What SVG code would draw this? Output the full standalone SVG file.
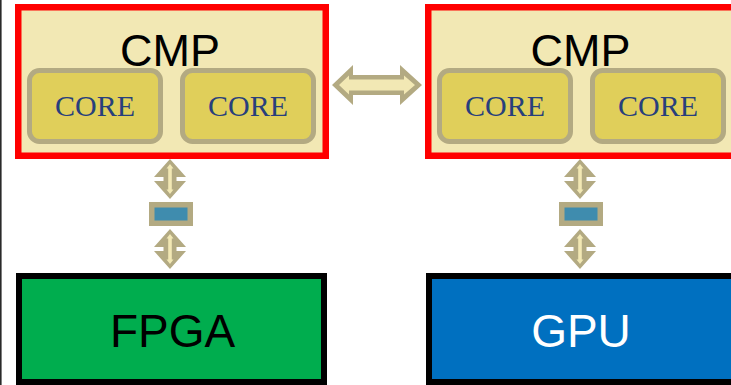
<svg xmlns="http://www.w3.org/2000/svg" width="731" height="385" viewBox="0 0 731 385">
  <style>
    .cmp { fill: #F2E8B4; stroke: #FF0000; stroke-width: 6.5; }
    .core { fill: #E0CF5A; stroke: #B3AA82; stroke-width: 5; }
    .cmp-label { font-family: "Liberation Sans", Arial, sans-serif; font-size: 45px; fill: #000; text-anchor: middle; }
    .core-label { font-family: "Liberation Serif", "Times New Roman", serif; font-size: 30px; fill: #283F7C; text-anchor: middle; }
    .dev { stroke: #000; stroke-width: 6; }
    .dev-label { font-family: "Liberation Sans", Arial, sans-serif; font-size: 46px; text-anchor: middle; }
    .arrow-out { fill: #B3AA82; }
    .arrow-in { fill: #F2E8B4; }
    .bridge { fill: #3F8CAE; stroke: #B3AA82; stroke-width: 5.5; }
  </style>
  <defs>
    <!-- vertical double-headed link arrow, centred on x=0, spanning y 0..40 -->
    <g id="vlink">
      <polygon class="arrow-out" points="0,0 16,18 6.5,18 6.5,22 16,22 0,40 -16,22 -6.5,22 -6.5,18 -16,18"/>
      <polygon class="arrow-in" points="0,5 3.5,9.5 1.8,9.5 1.8,30.5 3.5,30.5 0,35 -3.5,30.5 -1.8,30.5 -1.8,9.5 -3.5,9.5"/>
    </g>
  </defs>

  <rect width="731" height="385" fill="#FFFFFF"/>
  <rect x="0" y="0" width="1.6" height="385" fill="#2A2A2A"/>

  <!-- left multicore chip -->
  <g id="cmp-left">
    <rect class="cmp" x="18.25" y="7.25" width="307.5" height="148.5"/>
    <text class="cmp-label" x="170" y="65.5">CMP</text>
    <g id="cmp-left-core1">
      <rect class="core" x="29.5" y="70.5" width="131" height="71" rx="10"/>
      <text class="core-label" x="95" y="115.5">CORE</text>
    </g>
    <g id="cmp-left-core2">
      <rect class="core" x="182.5" y="70.5" width="131" height="71" rx="10"/>
      <text class="core-label" x="248" y="115.5">CORE</text>
    </g>
  </g>

  <!-- right multicore chip -->
  <g id="cmp-right">
    <rect class="cmp" x="428.25" y="7.25" width="320" height="148.5"/>
    <text class="cmp-label" x="580.5" y="65.5">CMP</text>
    <g id="cmp-right-core1">
      <rect class="core" x="439.5" y="70.5" width="131" height="71" rx="10"/>
      <text class="core-label" x="505" y="115.5">CORE</text>
    </g>
    <g id="cmp-right-core2">
      <rect class="core" x="592.5" y="70.5" width="131" height="71" rx="10"/>
      <text class="core-label" x="658" y="115.5">CORE</text>
    </g>
  </g>

  <!-- bridge chips -->
  <g id="bridge-left">
    <rect class="bridge" x="151.75" y="204.75" width="38.5" height="18.5"/>
  </g>
  <g id="bridge-right">
    <rect class="bridge" x="561.75" y="204.75" width="38.5" height="18.5"/>
  </g>

  <!-- accelerators -->
  <g id="fpga">
    <rect class="dev" x="19" y="276" width="305" height="106" fill="#00AD4E"/>
    <text class="dev-label" x="172.5" y="347" fill="#000000">FPGA</text>
  </g>
  <g id="gpu">
    <rect class="dev" x="429" y="276" width="320" height="106" fill="#0070C0"/>
    <text class="dev-label" x="581" y="347" fill="#FFFFFF">GPU</text>
  </g>

  <!-- links -->
  <g id="connectors">
    <g id="link-cmp-cmp">
      <polygon class="arrow-out" points="332,85 353,65 353,75 400,75 400,65 422,85 400,105 400,95 353,95 353,105"/>
      <polygon class="arrow-in" points="339,85 349,75.5 349,79.5 404,79.5 404,75.5 415,85 404,94.5 404,90.5 349,90.5 349,94.5"/>
    </g>
    <use href="#vlink" x="170" y="159"/>
    <use href="#vlink" x="170" y="229"/>
    <use href="#vlink" x="580" y="159"/>
    <use href="#vlink" x="580" y="229"/>
  </g>
</svg>
